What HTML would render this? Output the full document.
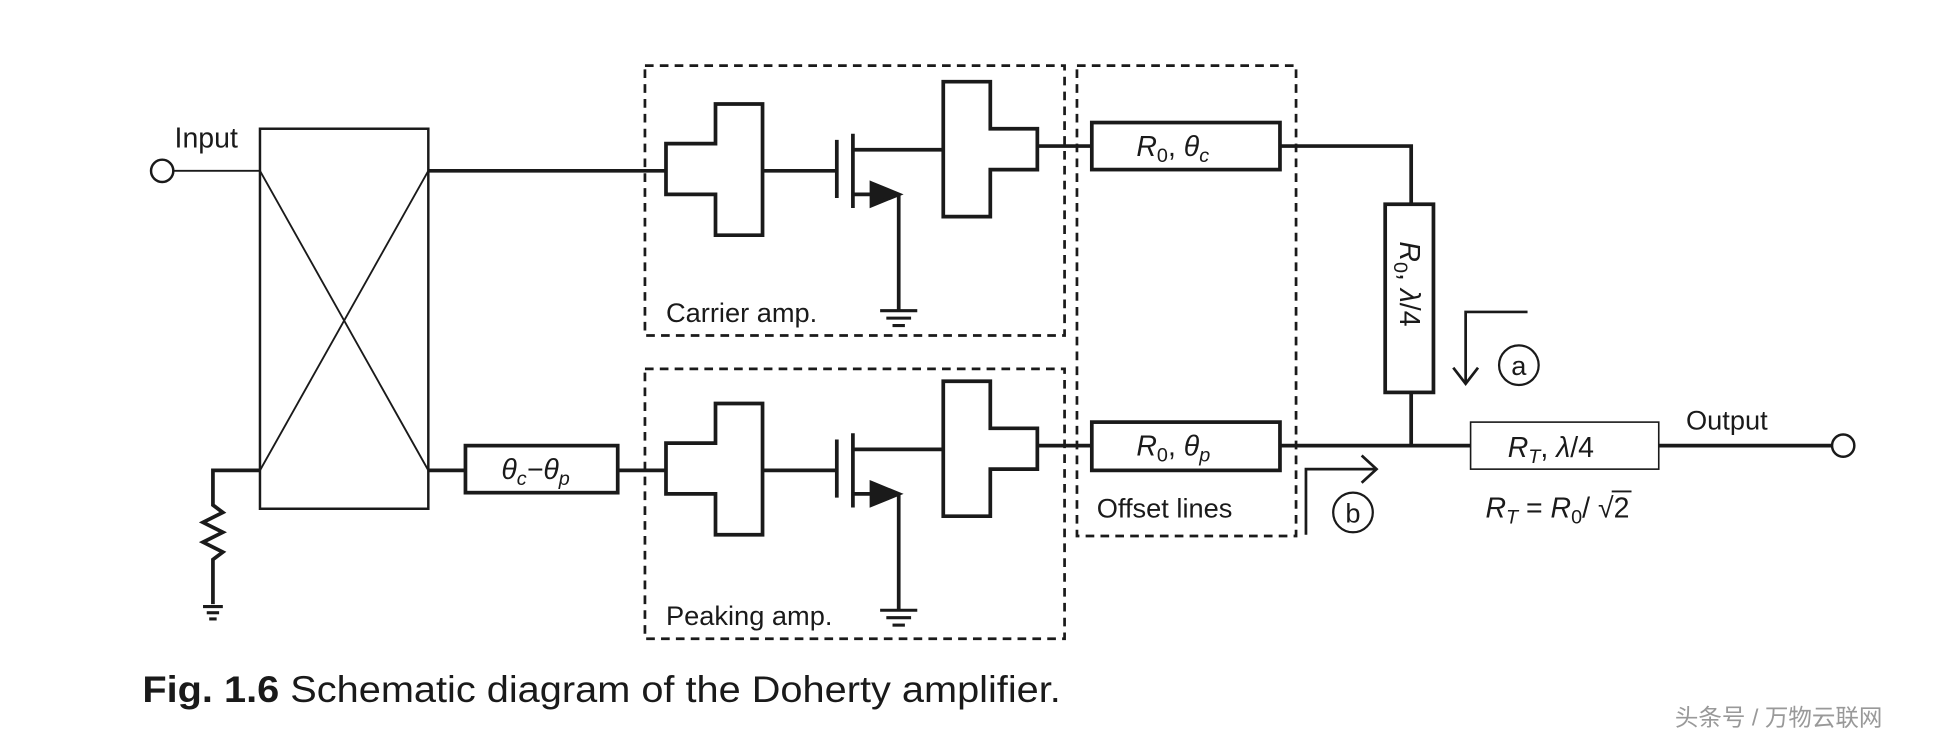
<!DOCTYPE html>
<html><head><meta charset="utf-8"><style>
html,body{margin:0;padding:0;background:#fff;}
svg{display:block;}
text{font-family:"Liberation Sans","Noto Sans CJK SC",sans-serif;fill:#1a1a1a;}
</style></head><body>
<svg width="1941" height="739" viewBox="0 0 1568 597" xmlns="http://www.w3.org/2000/svg">
<g stroke="#1a1a1a" fill="none" stroke-width="3">
<circle cx="131" cy="138" r="9" stroke-width="2"/>
<line x1="140" y1="138" x2="210" y2="138" stroke-width="1.5"/>
<rect x="210" y="104" width="136" height="307" stroke-width="2"/>
<line x1="210" y1="138" x2="346" y2="380" stroke-width="1.5"/>
<line x1="346" y1="138" x2="210" y2="380" stroke-width="1.5"/>
<line x1="346" y1="138" x2="538" y2="138"/>
<polyline points="210,380 172,380 172,408 180,414 164,422 180,430 164,438 180,446 172,452 172,488"/>
<line x1="164" y1="490" x2="180" y2="490" stroke-width="2.5"/>
<line x1="167" y1="495" x2="177" y2="495" stroke-width="2.5"/>
<line x1="169" y1="500" x2="175" y2="500" stroke-width="2.5"/>
<line x1="346" y1="380" x2="376" y2="380"/>
<rect x="376" y="360" width="123" height="38"/>
<line x1="499" y1="380" x2="538" y2="380"/>
<g stroke-dasharray="7,5" stroke-width="2.2">
<rect x="521" y="53" width="339" height="218"/>
<rect x="521" y="298" width="339" height="218"/>
<rect x="870" y="53" width="177" height="380"/>
</g>
</g>
<g id="amp" stroke="#1a1a1a" fill="none" stroke-width="3">
<polygon points="538,116 578,116 578,84 616,84 616,190 578,190 578,157 538,157"/>
<line x1="616" y1="138" x2="676" y2="138"/>
<line x1="676" y1="113" x2="676" y2="160"/>
<line x1="689" y1="108" x2="689" y2="168"/>
<line x1="689" y1="121" x2="762" y2="121"/>
<line x1="689" y1="157" x2="706" y2="157"/>
<polygon points="704,148 726,157 704,166" fill="#1a1a1a"/>
<polyline points="726,157 726,250"/>
<line x1="711" y1="251" x2="741" y2="251" stroke-width="2.5"/>
<line x1="716" y1="257" x2="736" y2="257" stroke-width="2.5"/>
<line x1="721" y1="263" x2="731" y2="263" stroke-width="2.5"/>
<polygon points="762,66 800,66 800,104 838,104 838,137 800,137 800,175 762,175"/>
<line x1="838" y1="118" x2="882" y2="118"/>
</g>
<use href="#amp" transform="translate(0,242)"/>
<g stroke="#1a1a1a" fill="none" stroke-width="3">
<rect x="882" y="99" width="152" height="38"/>
<polyline points="1034,118 1140,118 1140,165"/>
<rect x="1119" y="165" width="39" height="152"/>
<line x1="1140" y1="317" x2="1140" y2="360"/>
<rect x="882" y="341" width="152" height="39"/>
<line x1="1034" y1="360" x2="1188" y2="360"/>
<rect x="1188" y="341" width="152" height="38" stroke-width="1.3"/>
<line x1="1340" y1="360" x2="1480" y2="360"/>
<circle cx="1489" cy="360" r="9" stroke-width="2"/>
<polyline points="1234,252 1184,252 1184,310" stroke-width="2.2"/>
<polyline points="1174,297 1184,310 1194,297" stroke-width="2.2"/>
<circle cx="1227" cy="295" r="16" stroke-width="1.8"/>
<polyline points="1055,432 1055,379 1112,379" stroke-width="2.2"/>
<polyline points="1100,368 1112,379 1100,390" stroke-width="2.2"/>
<circle cx="1093" cy="414" r="16" stroke-width="1.8"/>
</g>
<g font-size="22">
<text x="141" y="119" font-size="23">Input</text>
<text x="538" y="260">Carrier amp.</text>
<text x="538" y="505">Peaking amp.</text>
<text x="886" y="418">Offset lines</text>
<text x="1362" y="347">Output</text>
<text x="1227" y="303" text-anchor="middle">a</text>
<text x="1093" y="422" text-anchor="middle">b</text>
<g font-style="italic" font-size="23">
<text x="405" y="387">θ<tspan font-size="16" dy="5">c</tspan><tspan dy="-5">−θ</tspan><tspan font-size="16" dy="5">p</tspan></text>
<text x="918" y="126">R<tspan font-size="16" dy="5" font-style="normal">0</tspan><tspan dy="-5" font-style="normal">, </tspan>θ<tspan font-size="16" dy="5">c</tspan></text>
<text x="918" y="368">R<tspan font-size="16" dy="5" font-style="normal">0</tspan><tspan dy="-5" font-style="normal">, </tspan>θ<tspan font-size="16" dy="5">p</tspan></text>
<text x="1218" y="369">R<tspan font-size="16" dy="5">T</tspan><tspan dy="-5" font-style="normal">, </tspan>λ<tspan font-style="normal">/4</tspan></text>
<text transform="translate(1131,195) rotate(90)">R<tspan font-size="16" dy="5" font-style="normal">0</tspan><tspan dy="-5" font-style="normal">, </tspan>λ<tspan font-style="normal">/4</tspan></text>
<text x="1200" y="418">R<tspan font-size="16" dy="5">T</tspan><tspan dy="-5" font-style="normal"> = </tspan>R<tspan font-size="16" dy="5" font-style="normal">0</tspan><tspan dy="-5" font-style="normal">/ √2</tspan></text>
</g>
</g>
<line x1="1302" y1="397" x2="1318" y2="397" stroke="#1a1a1a" stroke-width="1.5"/>
<text x="115" y="567" font-size="30" textLength="742" lengthAdjust="spacingAndGlyphs"><tspan font-weight="bold">Fig. 1.6</tspan>  Schematic diagram of the Doherty amplifier.</text>
<text x="1353" y="586" font-size="19" style="fill:#999">头条号 / 万物云联网</text>
</svg>
</body></html>
